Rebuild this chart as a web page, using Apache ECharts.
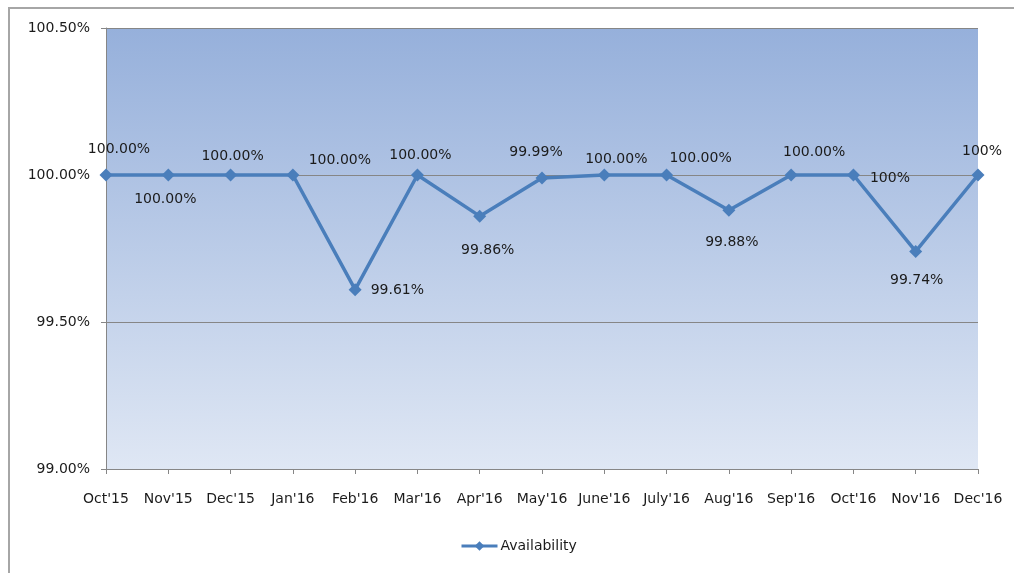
<!DOCTYPE html>
<html>
<head>
<meta charset="utf-8">
<style>
  html, body { margin: 0; padding: 0; background: #ffffff; }
  #chart { width: 1014px; height: 573px; }
</style>
<script src="https://cdn.jsdelivr.net/npm/echarts@6/dist/echarts.min.js"></script>
</head>
<body>
<div id="chart"></div>
<script>
// Monthly availability, Oct'15 to Dec'16
const months = ["Oct'15", "Nov'15", "Dec'15", "Jan'16", "Feb'16", "Mar'16", "Apr'16",
  "May'16", "June'16", "July'16", "Aug'16", "Sep'16", "Oct'16", "Nov'16", "Dec'16"];
const availability = [100, 100, 100, 100, 99.61, 100, 99.86, 99.99, 100, 100, 99.88, 100, 100, 99.74, 100];
// decimals shown in each point's label
const labelDecimals = [2, 2, 2, 2, 2, 2, 2, 2, 2, 2, 2, 2, 0, 2, 0];
const yTicks = [99.0, 99.5, 100.0, 100.5];

// label placement for each point: [position, dx, dy]
const labelPlacement = [
  ['top', 13, -7], ['bottom', -3, 6], ['top', 2, 0], ['top', 47, 4],
  ['right', 4, 1], ['top', 3, -1], ['bottom', 8, 16], ['top', -6, -7],
  ['top', 12, 3], ['top', 34, 2], ['bottom', 3, 14], ['top', 23, -4],
  ['right', 5, 3], ['bottom', 1, 10], ['top', 4, -5]
];

const FONT = 'DejaVu Sans';
const TEXT = '#1b1b1b';
const seriesData = availability.map((v, i) => ({
  value: v,
  label: {
    position: labelPlacement[i][0],
    offset: [labelPlacement[i][1], labelPlacement[i][2]],
    formatter: () => v.toFixed(labelDecimals[i]) + '%'
  }
}));

const chart = echarts.init(document.getElementById('chart'));
chart.setOption({
  animation: false,
  backgroundColor: '#ffffff',
  graphic: [{
    type: 'rect',
    shape: { x: 9, y: 8, width: 1010, height: 570 },
    style: { fill: 'none', stroke: '#a6a6a6', lineWidth: 2 },
    z: -1
  }],
  grid: {
    left: 106, right: 36, top: 28, bottom: 104,
    show: true,
    borderWidth: 0,
    backgroundColor: {
      type: 'linear', x: 0, y: 0, x2: 0, y2: 1,
      colorStops: [
        { offset: 0, color: '#96b0db' },
        { offset: 1, color: '#dfe7f4' }
      ]
    }
  },
  legend: {
    bottom: 15,
    left: 455,
    itemWidth: 36,
    itemHeight: 12,
    itemGap: 4,
    lineStyle: { width: 3 },
    textStyle: { fontFamily: FONT, fontSize: 14, color: TEXT, padding: [0, 0, 0, -2] },
    data: ['Availability']
  },
  xAxis: {
    type: 'category',
    data: months,
    boundaryGap: false,
    axisLine: { lineStyle: { color: '#868686', width: 1 } },
    axisTick: { show: true, length: 5, lineStyle: { color: '#868686' } },
    axisLabel: { fontFamily: FONT, fontSize: 14, color: TEXT, margin: 23, interval: 0 }
  },
  yAxis: {
    type: 'value',
    min: yTicks[0],
    max: yTicks[yTicks.length - 1],
    interval: 0.5,
    axisLine: { show: true, lineStyle: { color: '#868686' } },
    axisTick: { show: true, length: 5, lineStyle: { color: '#868686' } },
    splitLine: { show: true, lineStyle: { color: '#868686', width: 1 } },
    axisLabel: {
      fontFamily: FONT, fontSize: 14, color: TEXT, margin: 16,
      formatter: v => v.toFixed(2) + '%'
    }
  },
  series: [{
    name: 'Availability',
    type: 'line',
    data: seriesData,
    symbol: 'diamond',
    symbolSize: 13,
    lineStyle: { color: '#4a7ebb', width: 3.5 },
    itemStyle: { color: '#4a7ebb' },
    label: {
      show: true,
      distance: 5,
      fontFamily: FONT, fontSize: 14, color: TEXT
    }
  }]
});
</script>
</body>
</html>
